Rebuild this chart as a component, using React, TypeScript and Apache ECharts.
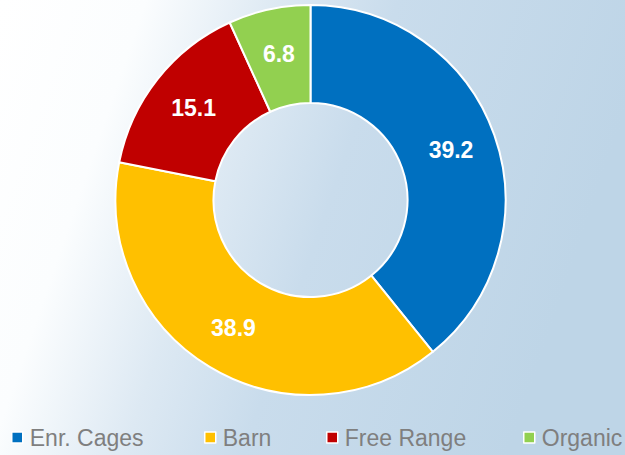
import React, { useEffect, useRef } from "react";
import * as echarts from "echarts";

const categories = ["Enr. Cages", "Barn", "Free Range", "Organic"];
const values = [39.2, 38.9, 15.1, 6.8];
const colors = ["#0070c0", "#ffc000", "#c00000", "#92d050"];
const legendLeft = [6, 199, 321, 518];

export default function App() {
  const ref = useRef<HTMLDivElement>(null);
  useEffect(() => {
    if (!ref.current) return;
    const chart = echarts.init(ref.current, null, { renderer: "svg" });
    const font = "'Liberation Sans', Arial, sans-serif";
    chart.setOption({
      animation: false,
      backgroundColor: new echarts.graphic.LinearGradient(0, 0, 1, 0.25, [
        { offset: 0, color: "#ffffff" },
        { offset: 0.22, color: "#fbfdfe" },
        { offset: 0.42, color: "#dde9f3" },
        { offset: 0.6, color: "#c9dcec" },
        { offset: 1, color: "#bed5e7" },
      ]),
      legend: categories.map((c, i) => ({
        data: [c],
        left: legendLeft[i],
        top: 421,
        orient: "horizontal",
        itemWidth: 11,
        itemHeight: 11,
        icon: "rect",
        selectedMode: false,
        itemStyle: { borderColor: "#ffffff", borderWidth: 1.5 },
        textStyle: {
          color: "#7f7f7f",
          fontSize: 23,
          fontFamily: font,
          padding: [0, 0, 0, 2],
        },
      })),
      series: [
        {
          type: "pie",
          center: [310.5, 200],
          radius: [97, 195],
          startAngle: 90,
          clockwise: true,
          avoidLabelOverlap: false,
          itemStyle: { borderColor: "#ffffff", borderWidth: 2 },
          label: {
            show: true,
            position: "inside",
            color: "#ffffff",
            fontWeight: "bold",
            fontSize: 23,
            fontFamily: font,
            formatter: (p: any) => p.value.toFixed(1),
          },
          labelLine: { show: false },
          emphasis: { disabled: true },
          data: categories.map((c, i) => ({
            name: c,
            value: values[i],
            itemStyle: { color: colors[i] },
          })),
        },
      ],
    });
    return () => chart.dispose();
  }, []);
  return <div ref={ref} style={{ width: 625, height: 455, position: "absolute", left: 0, top: 0 }} />;
}
